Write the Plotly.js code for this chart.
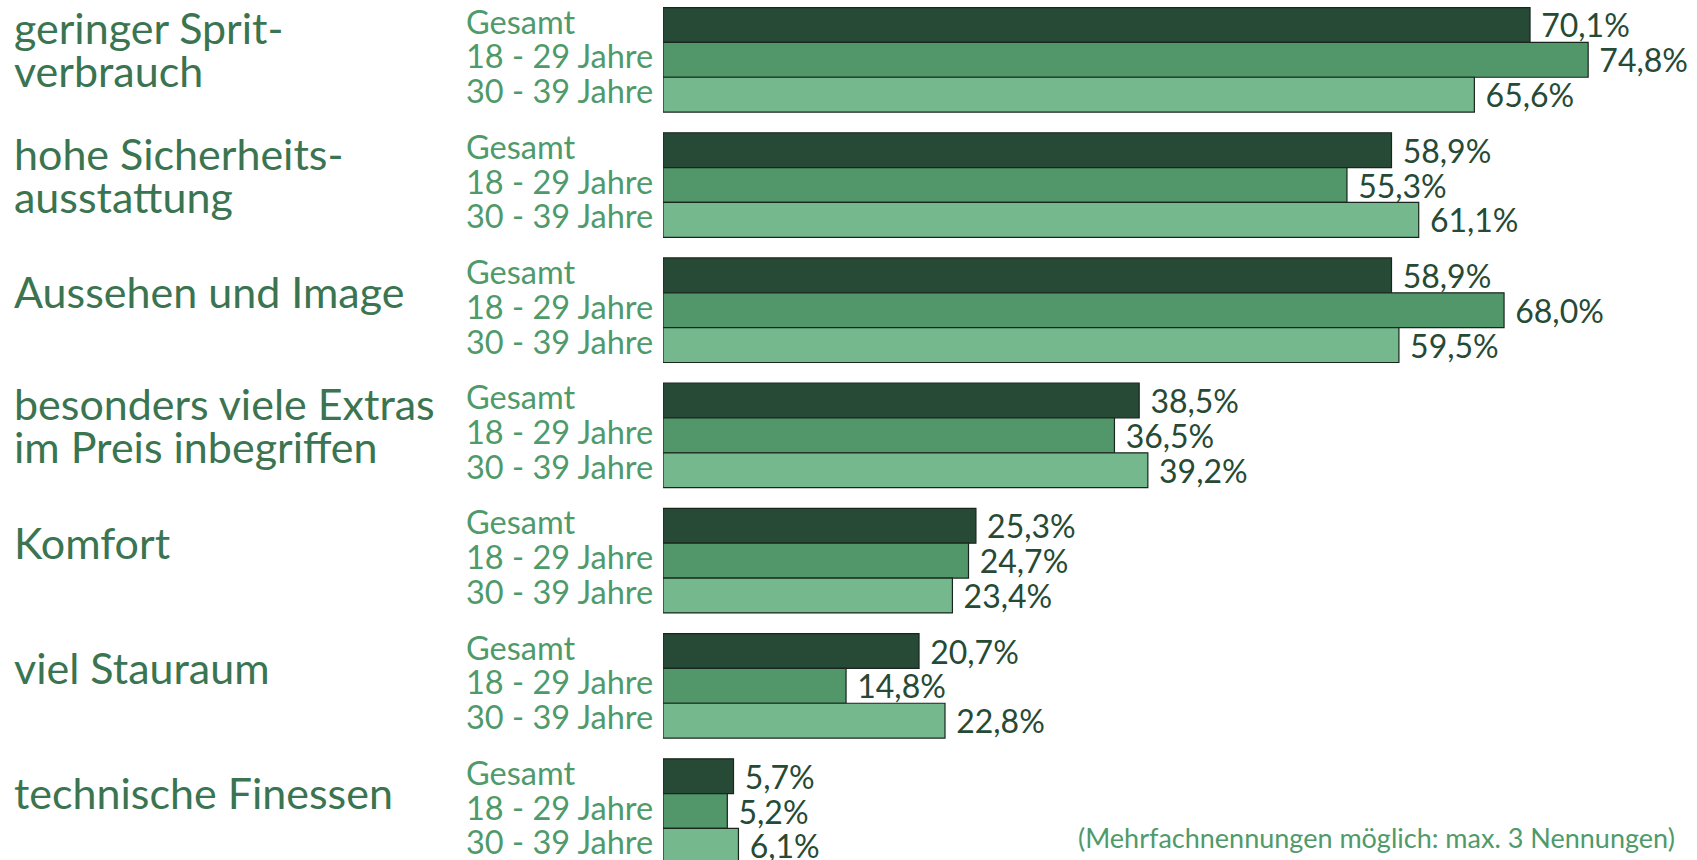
<!DOCTYPE html>
<html>
<head>
<meta charset="utf-8">
<script src="https://cdn.plot.ly/plotly-3.0.1.min.js"></script>
<style>html,body{margin:0;padding:0;background:#fff;}#chart{width:1697px;height:860px;}</style>
</head>
<body>
<div id="chart"></div>
<script>
const categories = ["geringer Sprit-<br>verbrauch", "hohe Sicherheits-<br>ausstattung", "Aussehen und Image", "besonders viele Extras<br>im Preis inbegriffen", "Komfort", "viel Stauraum", "technische Finessen"];
const seriesNames = ["Gesamt", "18 - 29 Jahre", "30 - 39 Jahre"];
const gesamt = [70.1, 58.9, 58.9, 38.5, 25.3, 20.7, 5.7];
const age18to29 = [74.8, 55.3, 68.0, 36.5, 24.7, 14.8, 5.2];
const age30to39 = [65.6, 61.1, 59.5, 39.2, 23.4, 22.8, 6.1];
const footnote = "(Mehrfachnennungen möglich: max. 3 Nennungen)";

const seriesValues = [gesamt, age18to29, age30to39];
const colors = ["#264a35", "#52976a", "#76b88e"];
const FONT = "Lato, 'Open Sans', sans-serif";
const W = 400;
const bargap = 0.165;
const slot = (1 - bargap) / 3;
const catIdx = categories.map((_, i) => i);

const traces = seriesValues.map((vals, j) => ({
  type: "bar",
  orientation: "h",
  name: seriesNames[j],
  y: catIdx,
  x: vals,
  marker: { color: colors[j], line: { color: "#18261d", width: 1.2 } },
  texttemplate: "\u00a0%{x:.1f}%",
  textposition: "outside",
  constraintext: "none",
  cliponaxis: false,
  textfont: { family: FONT, size: 32, color: "#264a35", weight: W },
  hoverinfo: "skip"
}));

const CAT_SIZE = 43, LINE_PITCH = 43;
const annotations = [];
categories.forEach((c, i) => {
  const lines = c.split("<br>");
  const n = lines.length;
  lines.forEach((ln, k) => {
    const baseline = (k - (n - 1) / 2) * LINE_PITCH + (n > 1 ? 8 : 0);
    annotations.push({
      xref: "paper", yref: "y", x: -0.6296, y: i,
      xanchor: "left", yanchor: "middle", align: "left",
      text: ln, showarrow: false, yshift: -(baseline - 0.43 * CAT_SIZE),
      font: { family: FONT, size: CAT_SIZE, color: "#3a7450", weight: W }
    });
  });
  seriesNames.forEach((s, j) => {
    annotations.push({
      xref: "paper", yref: "y", x: -0.1925, y: i + (j - 1) * slot,
      xanchor: "left", yanchor: "middle", align: "left",
      text: s, showarrow: false, yshift: 4,
      font: { family: FONT, size: 32.5, color: "#4f9a6a", weight: W }
    });
  });
});
annotations.push({
  xref: "paper", yref: "paper", x: 0.981, y: 0.0267,
  xanchor: "right", yanchor: "middle", text: footnote, showarrow: false,
  font: { family: FONT, size: 27, color: "#4f9a6a", weight: W }
});

const layout = {
  width: 1697, height: 860,
  margin: { l: 663, r: 0, t: 0, b: 0, pad: 0 },
  barmode: "group", bargap: bargap, bargroupgap: 0,
  separators: ",.",
  showlegend: false,
  paper_bgcolor: "#ffffff", plot_bgcolor: "#ffffff",
  xaxis: { range: [0, 83.6], visible: false, fixedrange: true },
  yaxis: { range: [6.391, -0.478], visible: false, fixedrange: true },
  annotations: annotations
};

Plotly.newPlot("chart", traces, layout, { staticPlot: true, displayModeBar: false });
</script>
</body>
</html>
